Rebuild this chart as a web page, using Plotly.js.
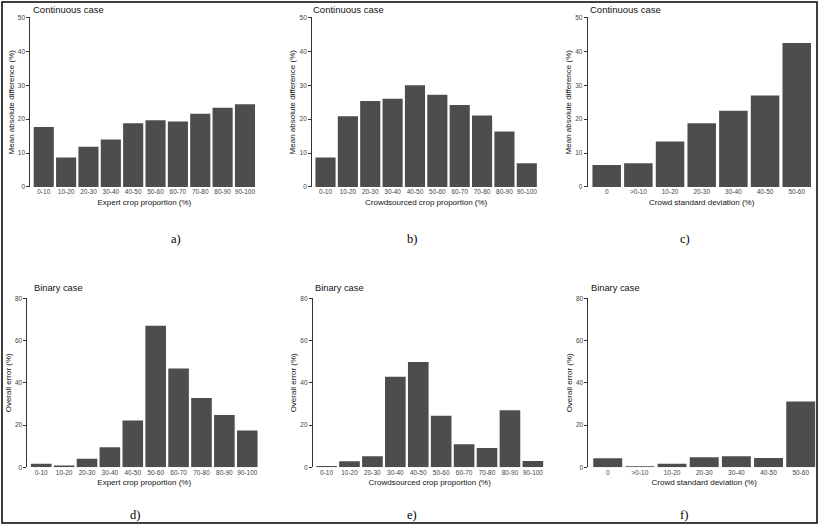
<!DOCTYPE html>
<html>
<head>
<meta charset="utf-8">
<script src="https://cdn.plot.ly/plotly-3.0.1.min.js"></script>
<style>html,body{margin:0;padding:0;background:#fff;}#chart{width:820px;height:527px;}</style>
</head>
<body>
<div id="chart"></div>
<script>
// ---- Data ----
const propCats = ["0-10","10-20","20-30","30-40","40-50","50-60","60-70","70-80","80-90","90-100"];
const sdCats = ["0",">0-10","10-20","20-30","30-40","40-50","50-60"];

const contExpert = [17.7, 8.7, 11.9, 14.0, 18.8, 19.7, 19.3, 21.6, 23.4, 24.4];
const contCrowd  = [8.7, 20.9, 25.4, 26.0, 30.0, 27.2, 24.2, 21.1, 16.4, 7.0];
const contSD     = [6.5, 7.0, 13.4, 18.8, 22.5, 27.0, 42.5];

const binExpert = [1.7, 0.8, 4.1, 9.5, 22.1, 67.0, 46.8, 32.8, 24.8, 17.4];
const binCrowd  = [0.6, 2.8, 5.2, 42.9, 49.8, 24.4, 10.9, 9.1, 27.0, 3.0];
const binSD     = [4.3, 0.5, 1.7, 4.7, 5.2, 4.4, 31.2];

const xTitles = ["Expert crop proportion (%)", "Crowdsourced crop proportion (%)", "Crowd standard deviation (%)"];
const yTitleCont = "Mean absolute difference (%)";
const yTitleBin = "Overall error (%)";
const panelTitles = ["Continuous case", "Binary case"];
const panelLabels = ["a)", "b)", "c)", "d)", "e)", "f)"];

// ---- Layout geometry ----
const W = 820, H = 527;
const FONT = "Liberation Sans, Arial, sans-serif";
const BAR = "#4d4d4d";

const panels = [
  {cats: propCats, vals: contExpert, xt: xTitles[0], yt: yTitleCont, xd: [0.0370, 0.3151], yd: [0.6452, 0.9668], yr: 50, dt: 10},
  {cats: propCats, vals: contCrowd,  xt: xTitles[1], yt: yTitleCont, xd: [0.3806, 0.6588], yd: [0.6452, 0.9668], yr: 50, dt: 10},
  {cats: sdCats,   vals: contSD,     xt: xTitles[2], yt: yTitleCont, xd: [0.7167, 0.9948], yd: [0.6452, 0.9668], yr: 50, dt: 10},
  {cats: propCats, vals: binExpert,  xt: xTitles[0], yt: yTitleBin,  xd: [0.0335, 0.3183], yd: [0.1133, 0.4340], yr: 80, dt: 20},
  {cats: propCats, vals: binCrowd,   xt: xTitles[1], yt: yTitleBin,  xd: [0.3815, 0.6666], yd: [0.1133, 0.4340], yr: 80, dt: 20},
  {cats: sdCats,   vals: binSD,      xt: xTitles[2], yt: yTitleBin,  xd: [0.7176, 1.0],    yd: [0.1133, 0.4340], yr: 80, dt: 20}
];

const traces = [];
const layout = {
  width: W, height: H,
  margin: {l: 0, r: 0, t: 0, b: 0},
  paper_bgcolor: "#ffffff",
  plot_bgcolor: "#ffffff",
  showlegend: false,
  bargap: 0.1,
  font: {family: FONT, color: "#000"},
  annotations: [],
  shapes: []
};

panels.forEach((p, i) => {
  const n = i + 1;
  const xk = n === 1 ? "xaxis" : "xaxis" + n;
  const yk = n === 1 ? "yaxis" : "yaxis" + n;
  traces.push({
    type: "bar",
    x: p.cats,
    y: p.vals,
    xaxis: "x" + (n === 1 ? "" : n),
    yaxis: "y" + (n === 1 ? "" : n),
    marker: {color: BAR, line: {width: 0}},
    width: 0.9,
    hoverinfo: "x+y"
  });
  layout[xk] = {
    domain: p.xd,
    anchor: "y" + (n === 1 ? "" : n),
    type: "category",
    categoryorder: "array",
    categoryarray: p.cats,
    range: [-0.6, p.cats.length - 0.4],
    showline: false,
    showgrid: false,
    zeroline: false,
    ticks: "",
    tickfont: {family: FONT, size: 6.5, color: "#444"},
    automargin: false,
    fixedrange: true,
    title: {text: p.xt, font: {family: FONT, size: 8, color: "#111"}, standoff: 4}
  };
  layout[yk] = {
    domain: p.yd,
    anchor: "x" + (n === 1 ? "" : n),
    range: [0, p.yr],
    dtick: p.dt,
    tick0: 0,
    showline: true,
    linecolor: "#333",
    linewidth: 1,
    ticks: "outside",
    ticklen: 3,
    tickwidth: 1,
    tickcolor: "#333",
    showgrid: false,
    zeroline: false,
    tickfont: {family: FONT, size: 6.5, color: "#444"},
    automargin: false,
    fixedrange: true,
    title: {text: p.yt, font: {family: FONT, size: 8, color: "#111"}, standoff: 2}
  };
});

// Panel titles
const titlePos = [
  [30.7, 9], [310.7, 9], [588.3, 9],
  [32.3, 287.7], [313.3, 287.7], [589.3, 287.7]
];
titlePos.forEach((tp, i) => {
  layout.annotations.push({
    xref: "paper", yref: "paper",
    x: tp[0] / W, y: 1 - tp[1] / H,
    xanchor: "left", yanchor: "middle",
    showarrow: false,
    text: i < 3 ? panelTitles[0] : panelTitles[1],
    font: {family: FONT, size: i < 3 ? 9.5 : 9.3, color: "#111"}
  });
});

// Panel letters
const labelPos = [[176, 239], [412, 239], [685, 239], [135, 515], [412, 515], [684, 515]];
labelPos.forEach((lp, i) => {
  layout.annotations.push({
    xref: "paper", yref: "paper",
    x: lp[0] / W, y: 1 - lp[1] / H,
    xanchor: "center", yanchor: "middle",
    showarrow: false,
    text: panelLabels[i],
    font: {family: "Liberation Serif, Times New Roman, serif", size: 12.5, color: "#000"}
  });
});

// Outer border
layout.shapes.push({
  type: "rect", xref: "paper", yref: "paper",
  x0: 2 / W, x1: 817 / W, y0: 1 - 523 / H, y1: 1 - 2 / H,
  line: {color: "#000", width: 1.5}, fillcolor: "rgba(0,0,0,0)"
});

Plotly.newPlot("chart", traces, layout, {displayModeBar: false, staticPlot: true});
</script>
</body>
</html>
